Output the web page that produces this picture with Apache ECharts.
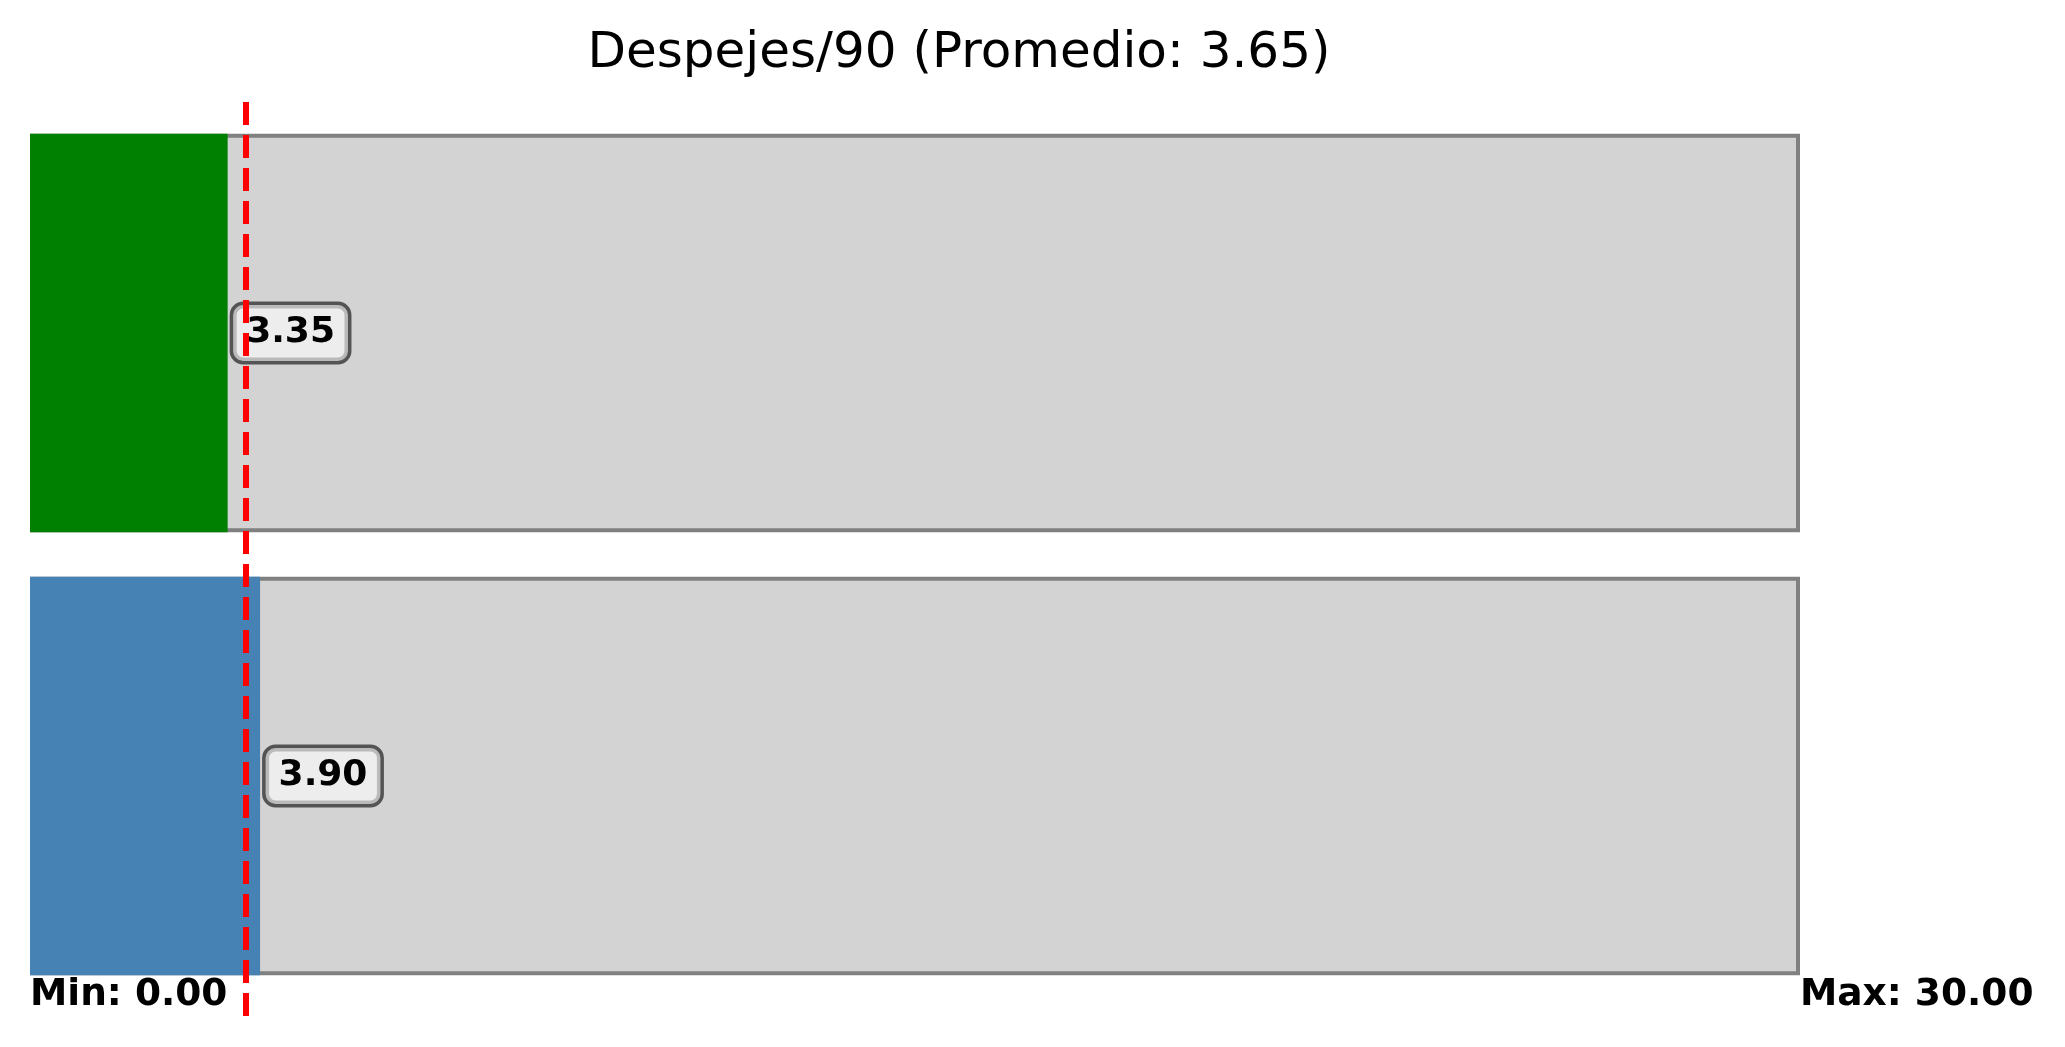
<!DOCTYPE html>
<html>
<head>
<meta charset="utf-8">
<script src="https://cdn.jsdelivr.net/npm/echarts@6/dist/echarts.min.js"></script>
<style>
  html, body { margin: 0; padding: 0; background: #ffffff; }
  #chart { width: 2065px; height: 1047px; }
</style>
</head>
<body>
<div id="chart"></div>
<script>
const categories = ['Jugador A', 'Jugador B'];
const values = [3.35, 3.90];
const barColors = ['#008000', '#4682B4'];
const average = 3.65;
const minValue = 0;
const maxValue = 30;
const metricName = 'Despejes/90';

const FONT = 'DejaVu Sans';
const chart = echarts.init(document.getElementById('chart'), null, { renderer: 'canvas' });

const option = {
  backgroundColor: '#ffffff',
  animation: false,
  title: {
    text: metricName + ' (Promedio: ' + average.toFixed(2) + ')',
    left: 959,
    textAlign: 'center',
    top: 29,
    padding: 0,
    textStyle: { fontFamily: FONT, fontSize: 50, fontWeight: 'normal', color: '#000000', lineHeight: 50 }
  },
  grid: [
    { left: 30, right: 265, top: 111.5, bottom: 49.5, containLabel: false },
    { left: 30, right: 265, top: 99, bottom: 31, containLabel: false }
  ],
  xAxis: [
    {
      gridIndex: 0, type: 'value', min: minValue, max: maxValue, interval: maxValue - minValue,
      axisLine: { show: false }, axisTick: { show: false }, splitLine: { show: false },
      axisLabel: {
        show: true, align: 'left', verticalAlign: 'middle', margin: -2,
        fontFamily: FONT, fontSize: 37.5, fontWeight: 'bold', color: '#000000', lineHeight: 38,
        formatter: function (v) {
          return v === minValue ? 'Min: ' + minValue.toFixed(2) : 'Max: ' + maxValue.toFixed(2);
        }
      }
    },
    {
      gridIndex: 1, type: 'value', min: minValue, max: maxValue, show: false
    }
  ],
  yAxis: [
    {
      gridIndex: 0, type: 'category', data: categories, inverse: true,
      axisLine: { show: false }, axisTick: { show: false }, axisLabel: { show: false }, splitLine: { show: false }
    },
    { gridIndex: 1, type: 'value', min: 0, max: 1, show: false }
  ],
  series: [
    {
      name: 'rango', type: 'bar', xAxisIndex: 0, yAxisIndex: 0, z: 1,
      barWidth: '90%',
      data: categories.map(() => maxValue),
      itemStyle: { color: '#D3D3D3', borderColor: '#808080', borderWidth: 4 },
      silent: true
    },
    {
      name: 'valor', type: 'bar', xAxisIndex: 0, yAxisIndex: 0, z: 2,
      barWidth: '90%', barGap: '-100%',
      data: values.map((v, i) => ({ value: v, itemStyle: { color: barColors[i] } })),
      silent: true
    },
    {
      name: 'promedio', type: 'line', xAxisIndex: 1, yAxisIndex: 1, z: 3,
      data: [],
      markLine: {
        silent: true, symbol: 'none', animation: false,
        label: { show: false },
        lineStyle: { color: '#FF0000', width: 6, type: [23, 10] },
        data: [{ xAxis: average }]
      }
    },
    {
      name: 'etiquetas', type: 'scatter', xAxisIndex: 0, yAxisIndex: 0, z: 4,
      symbolSize: 1,
      itemStyle: { color: 'rgba(0,0,0,0)', opacity: 1 },
      data: values.map((v, i) => [v, i]),
      silent: true,
      label: {
        show: true, position: 'right', distance: 5,
        formatter: function (p) { return p.value[0].toFixed(2); },
        fontFamily: FONT, fontSize: 36, fontWeight: 'bold', color: '#000000', lineHeight: 36,
        backgroundColor: 'rgba(255,255,255,0.6)',
        borderColor: 'rgba(0,0,0,0.6)', borderWidth: 3.5, borderRadius: 10,
        padding: [10, 13, 10, 13]
      }
    }
  ]
};
chart.setOption(option);
</script>
</body>
</html>
